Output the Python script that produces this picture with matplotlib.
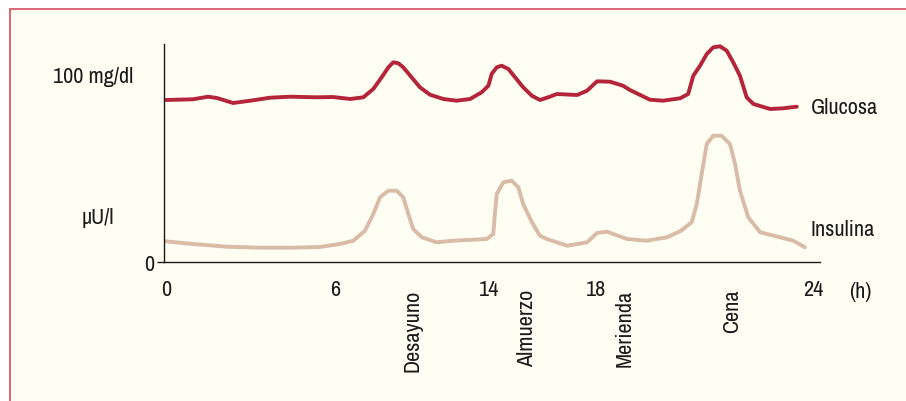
import matplotlib
matplotlib.use("Agg")
import matplotlib.pyplot as plt
from matplotlib import font_manager
from matplotlib.patches import Rectangle
from matplotlib.transforms import blended_transform_factory

# pick a narrow sans if one is installed
names = sorted({f.name for f in font_manager.fontManager.ttflist})
narrow = [n for n in names if "Narrow" in n or "Condensed" in n]
plt.rcParams["font.family"] = narrow[:1] + ["Liberation Sans", "DejaVu Sans"]

# Schematic 24 h profile, x in hours, y in arbitrary chart units
glucose_h = [0.0, 1.00, 1.56, 1.89, 2.49, 3.23, 3.86, 4.60, 5.60, 6.19, 6.83, 7.32,
             7.69, 8.00, 8.25, 8.43, 8.62, 8.80, 9.11, 9.42, 9.79, 10.29, 10.78,
             11.28, 11.71, 11.96, 12.08, 12.27, 12.45, 12.70, 12.95, 13.25, 13.57,
             13.87, 14.24, 14.50, 15.25, 15.62, 15.99, 16.47, 16.95, 17.21, 17.95,
             18.44, 19.07, 19.37, 19.56, 19.81, 20.06, 20.30, 20.55, 20.80, 21.04,
             21.29, 21.54, 21.79, 22.41, 22.90, 23.40]
glucose_v = [162, 162.7, 165.3, 164, 159, 161.7, 164.3, 165.3, 164.7, 165, 163, 164.7,
             173, 184.7, 194.7, 199.7, 198.7, 194.7, 184.7, 174.7, 167.3, 163, 161.3,
             163, 169.7, 176.3, 188, 194.7, 196.3, 193, 184.7, 174.7, 166.3,
             162, 165.3, 168, 167, 171.3, 180.7, 180.3, 176.3, 172, 162.3,
             161.3, 163.7, 168, 186.3, 196.3, 208, 214.7, 215.7, 211.3, 199.7,
             186.3, 164.7, 158, 153, 153.7, 155.3]

insulin_h = [0.0, 1.00, 2.26, 3.49, 4.71, 5.71, 6.45, 6.95, 7.38, 7.69, 7.94, 8.25,
             8.56, 8.80, 8.99, 9.17, 9.49, 10.04, 10.66, 11.40, 11.90, 12.14, 12.20,
             12.27, 12.51, 12.82, 13.07, 13.25, 13.57, 13.87, 14.13, 14.88, 15.62,
             15.99, 16.36, 17.10, 17.84, 18.58, 19.07, 19.50, 19.69, 19.87, 20.06,
             20.30, 20.61, 20.92, 21.11, 21.29, 21.60, 22.04, 22.78, 23.27, 23.70]
insulin_v = [20.7, 18, 15.3, 14.3, 14.3, 15, 18, 21.3, 31.3, 48, 64.7, 71.3,
             71.3, 64.7, 48, 33, 24.7, 19.7, 21.3, 22.3, 23, 28, 48,
             68, 79.7, 81.3, 74.7, 58, 40, 26.3, 23, 16.3, 19.7,
             29, 30.3, 23, 21.3, 24.7, 30.7, 39.7, 58, 88, 118,
             126.3, 126.3, 118, 98, 71.3, 44.7, 29.7, 24.7, 21.3, 14.7]

hour_ticks = [0, 6.27, 11.98, 15.95, 24]
hour_labels = ["0", "6", "14", "18", "24"]
meal_h = [9.16, 13.39, 17.03, 21.0]
meal_labels = ["Desayuno", "Almuerzo", "Merienda", "Cena"]

fig = plt.figure(figsize=(9.06, 4.02), dpi=100)
fig.patch.set_facecolor("white")
fig.patches.append(Rectangle((9.5 / 906, -0.1), 1.2, 1 - 9.5 / 402 + 0.1,
                             transform=fig.transFigure, facecolor="#fefef2",
                             edgecolor="#d9596a", linewidth=1.3, zorder=-5))

ax = fig.add_axes([164 / 906, 1 - 263 / 402, 656 / 906, 218 / 402])
ax.set_facecolor("none")
ax.set_zorder(2)

ax.plot(glucose_h, glucose_v, color="#b5253a", lw=2.8,
        solid_capstyle="round", solid_joinstyle="round")
ax.plot(insulin_h, insulin_v, color="#d9bba8", lw=2.8,
        solid_capstyle="round", solid_joinstyle="round")

ax.set_xlim(-0.074, 24.26)
ax.set_ylim(0, 218)

for s in ["top", "right"]:
    ax.spines[s].set_visible(False)
for s in ["left", "bottom"]:
    ax.spines[s].set_color("#1a1a1a")
    ax.spines[s].set_linewidth(1.0)

ax.set_xticks(hour_ticks)
ax.set_xticklabels(hour_labels)
ax.tick_params(axis="x", length=0, pad=12, labelsize=16, colors="#1a1a1a")
ax.set_yticks([0])
ax.set_yticklabels(["0"])
ax.tick_params(axis="y", length=5, width=1.0, pad=2, labelsize=16, colors="#1a1a1a")

tr = blended_transform_factory(ax.transData, ax.transAxes)
for h, lab in zip(meal_h, meal_labels):
    ax.text(h, -0.122, lab, transform=tr, rotation=90, ha="center", va="top",
            fontsize=16, color="#1a1a1a")

ax.text(-0.047, 0.853, "100 mg/dl", transform=ax.transAxes, ha="right",
        va="center", fontsize=16, color="#1a1a1a")
ax.text(-0.076, 0.206, "μU/l", transform=ax.transAxes, ha="right",
        va="center", fontsize=16, color="#1a1a1a")
ax.text(0.986, 0.711, "Glucosa", transform=ax.transAxes, ha="left",
        va="center", fontsize=16, color="#1a1a1a")
ax.text(0.986, 0.151, "Insulina", transform=ax.transAxes, ha="left",
        va="center", fontsize=16, color="#1a1a1a")
fig.text(860 / 906, 1 - 292 / 402, "(h)", ha="center", va="center",
         fontsize=16, color="#1a1a1a")

fig.savefig("out.png", dpi=100)
